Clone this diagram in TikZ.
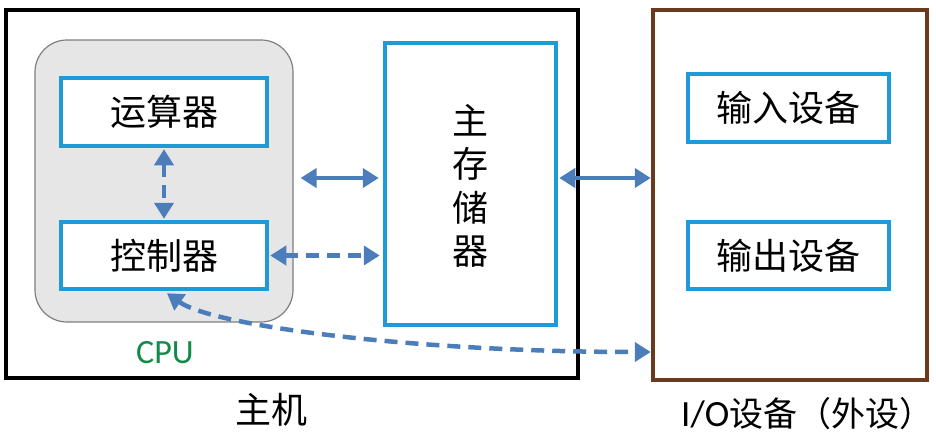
\documentclass[tikz,border=0pt]{standalone}
\usepackage{fontspec}
\newfontfamily\cjk{Noto Sans CJK SC}
\newfontfamily\lat{Carlito}
\usetikzlibrary{arrows.meta,calc}
\definecolor{arrblue}{HTML}{4A7DBA}
\definecolor{boxblue}{HTML}{1E9BD7}
\definecolor{cpugreen}{HTML}{138A48}
\definecolor{iobrown}{HTML}{6B3A1E}
\definecolor{cpufill}{HTML}{E6E6E6}
\definecolor{cpuline}{HTML}{7F7F7F}
\tikzset{
  unitbox/.style={draw=boxblue,line width=4.5pt,fill=white,inner sep=0pt,
    font=\cjk\fontsize{36}{40}\selectfont},
  arr/.style={draw=arrblue,line width=4.5pt,
    {Triangle[length=16pt,width=19pt]}-{Triangle[length=16pt,width=19pt]}},
  dasharr/.style={arr,dash pattern=on 13pt off 8pt},
  lbl/.style={inner sep=0pt,font=\cjk\fontsize{36}{40}\selectfont}
}
\begin{document}
\begin{tikzpicture}[x=1pt,y=-1pt]
\useasboundingbox (0,0) rectangle (936,437);
% host
\node[draw=black,line width=4.5pt,minimum width=572pt,minimum height=368pt,inner sep=0pt] (host) at (292,194) {};
% CPU
\node[draw=cpuline,line width=1.2pt,fill=cpufill,rounded corners=32pt,minimum width=258pt,minimum height=282pt,inner sep=0pt] (cpu) at (164,181) {};
\node[unitbox,minimum width=206pt,minimum height=68pt] (alu) at (164,112) {运算器};
\node[unitbox,minimum width=206pt,minimum height=67pt] (ctrl) at (164,255.5) {控制器};
\node[inner sep=0pt,text=cpugreen,font=\lat\fontsize{34}{38}\selectfont] (cpulbl) at (165,353) {CPU};
% memory
\node[unitbox,minimum width=171pt,minimum height=282pt] (mem) at (470.5,184) {};
\node[lbl] (m1) at (470.5,120) {主};
\node[lbl] (m2) at (470.5,164) {存};
\node[lbl] (m3) at (470.5,208) {储};
\node[lbl] (m4) at (470.5,252) {器};
% IO
\node[draw=iobrown,line width=4.5pt,minimum width=274pt,minimum height=370pt,inner sep=0pt] (io) at (790,195) {};
\node[unitbox,minimum width=201pt,minimum height=68pt] (in) at (788.5,108) {输入设备};
\node[unitbox,minimum width=201pt,minimum height=67pt] (out) at (788.5,255.5) {输出设备};
% labels
\node[lbl] (hostlbl) at (271,410) {主机};
\node[inner sep=0pt,anchor=west,font=\cjk\fontsize{34}{38}\selectfont] (iolbl) at (681,414) {{\lat\fontsize{37}{40}\selectfont I/O}设备（外设）};
% connectors
\coordinate (a1) at (0,178);
\coordinate (a4) at (0,352);
\draw[arr] ([xshift=7pt]cpu.east |- a1) -- ([xshift=-4pt]mem.west |- a1);
\draw[dasharr] ([xshift=1pt]ctrl.east) -- ([xshift=-3pt]mem.west |- ctrl.east);
\draw[arr] ([xshift=1pt]mem.east |- a1) -- (io.west |- a1);
\draw[dasharr] ([yshift=-1pt]alu.south) -- ([yshift=1pt]ctrl.north);
\draw[dasharr] ([xshift=3pt,yshift=-2pt]ctrl.south) .. controls (215,327) and (420,352) .. (io.west |- a4);
\end{tikzpicture}
\end{document}
